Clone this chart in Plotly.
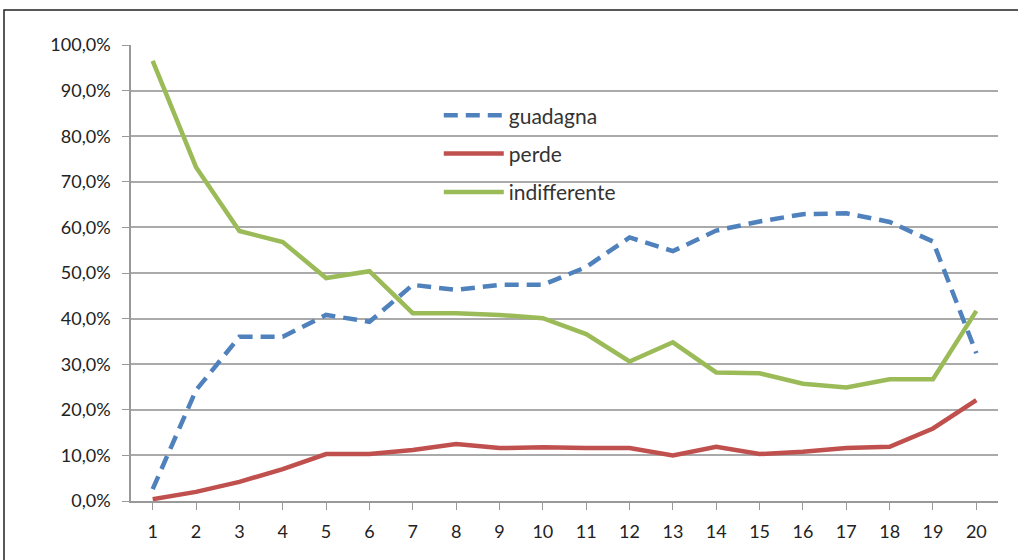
import plotly.graph_objects as go

categories = list(range(1, 21))
guadagna = [2.6, 24.3, 36.0, 36.0, 40.8, 39.3, 47.4, 46.3, 47.4, 47.4,
            51.3, 57.8, 54.8, 59.3, 61.3, 62.9, 63.1, 61.2, 56.9, 32.4]
perde = [0.4, 2.0, 4.2, 7.0, 10.3, 10.3, 11.2, 12.5, 11.6, 11.8,
         11.6, 11.6, 10.0, 11.9, 10.3, 10.8, 11.6, 11.9, 15.9, 22.1]
indifferente = [96.5, 73.2, 59.2, 56.8, 48.9, 50.4, 41.2, 41.2, 40.8, 40.1,
                36.6, 30.6, 34.8, 28.2, 28.0, 25.7, 24.9, 26.7, 26.7, 41.7]
y_ticks = [0, 10, 20, 30, 40, 50, 60, 70, 80, 90, 100]
y_ticktext = [f"{v:.1f}".replace(".", ",") + "%" for v in y_ticks]

FONT = "Lato"
W, H = 1018, 560
L, T = 131, 45
PW, PH = 867, 456

fig = go.Figure()
fig.add_trace(go.Scatter(x=categories, y=guadagna, mode="lines", name="guadagna",
                         legendgroup="a",
                         line=dict(color="#4f81bd", width=4.5, dash="14px,8px")))
fig.add_trace(go.Scatter(x=categories, y=perde, mode="lines", name="perde",
                         legendgroup="b",
                         line=dict(color="#c0504d", width=4.5)))
fig.add_trace(go.Scatter(x=categories, y=indifferente, mode="lines", name="indifferente",
                         legendgroup="c",
                         line=dict(color="#9bbb59", width=4.5)))

fig.update_layout(
    width=W, height=H,
    margin=dict(l=L, r=W - L - PW, t=T, b=H - T - PH, autoexpand=False),
    paper_bgcolor="white", plot_bgcolor="white",
    font=dict(family=FONT, size=18, color="#222"),
    showlegend=True,
    legend=dict(x=0.355, y=0.89, xanchor="left", yanchor="top",
                bgcolor="rgba(0,0,0,0)", font=dict(size=21, color="#333"),
                tracegroupgap=8, itemwidth=60),
    xaxis=dict(range=[0.5, 20.5], tickmode="array", tickvals=categories,
               ticktext=[str(c) for c in categories], tickson="boundaries",
               ticks="outside", ticklen=7, tickcolor="#999", showgrid=False,
               showline=True, linecolor="#999", linewidth=1.5, zeroline=False,
               tickfont=dict(size=18, color="#222"), ticklabelstandoff=7),
    yaxis=dict(range=[0, 100], tickmode="array", tickvals=y_ticks,
               ticktext=y_ticktext, ticks="outside", ticklen=7,
               tickcolor="#999", showgrid=True, gridcolor="#aaa", gridwidth=1.5,
               showline=True, linecolor="#999", linewidth=1.5, zeroline=False,
               tickfont=dict(size=18, color="#222"), ticklabelstandoff=8),
)

fig.add_shape(type="rect", xref="paper", yref="paper",
              x0=(4 - L) / PW, x1=1.05, y0=-0.3, y1=(PH + T - 10) / PH,
              line=dict(color="#222", width=1.5), fillcolor="rgba(0,0,0,0)",
              layer="below")

fig.write_html("out.html", config={"displayModeBar": False},
               post_script="document.body.style.margin='0';document.body.style.padding='0';")
